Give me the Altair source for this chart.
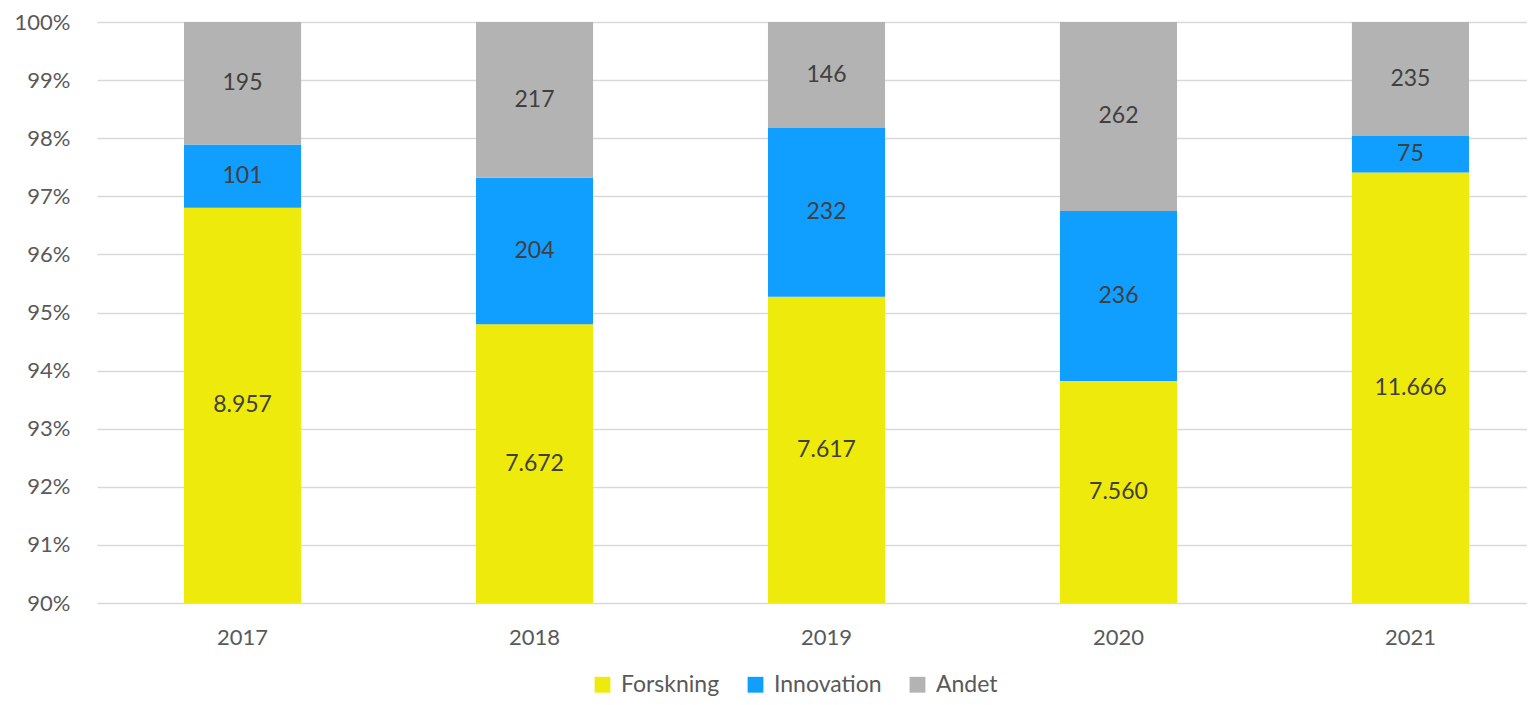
import altair as alt
import pandas as pd

years = ["2017", "2018", "2019", "2020", "2021"]
categories = ["Forskning", "Innovation", "Andet"]
forskning = [8957, 7672, 7617, 7560, 11666]
innovation = [101, 204, 232, 236, 75]
andet = [195, 217, 146, 262, 235]
colors = ["#EEEA0C", "#109EFF", "#B3B3B3"]

rows = []
for i, y in enumerate(years):
    for j, (c, vals) in enumerate(zip(categories, [forskning, innovation, andet])):
        rows.append({"year": y, "cat": c, "order": j, "value": vals[i]})
df = pd.DataFrame(rows)

FONT = "Lato"

base = alt.Chart(df).transform_stack(
    stack="value", groupby=["year"], as_=["y0", "y1"], offset="normalize",
    sort=[alt.SortField("order", order="ascending")]
).transform_calculate(
    mid="(max(datum.y0, 0.9) + datum.y1) / 2",
    label="replace(format(datum.value, ','), ',', '.')"
)

xscale = alt.Scale(paddingInner=0.599, paddingOuter=0.298, range=[0, 1459])
yscale = alt.Scale(domain=[0.9, 1.0], nice=False, zero=False)

bars = base.mark_bar(clip=True).encode(
    x=alt.X("year:N", title=None, sort=years, scale=xscale,
            axis=alt.Axis(labelAngle=0, labelFontSize=22, labelColor="#595959",
                          labelFont=FONT, labelPadding=24, domain=False, ticks=False,
                          grid=False)),
    y=alt.Y("y0:Q", title=None, scale=yscale,
            axis=alt.Axis(format=".0%", values=[0.9, 0.91, 0.92, 0.93, 0.94, 0.95, 0.96, 0.97, 0.98, 0.99, 1.0],
                          labelFontSize=22, labelColor="#595959", labelFont=FONT,
                          labelPadding=27, domain=False, ticks=False,
                          grid=True, gridColor="#D9D9D9", gridWidth=1.5)),
    y2="y1:Q",
    color=alt.Color("cat:N", sort=categories,
                    scale=alt.Scale(domain=categories, range=colors),
                    legend=alt.Legend(title=None, orient="none", direction="horizontal",
                                      legendX=494, legendY=651,
                                      symbolType="square", symbolSize=250,
                                      symbolStrokeWidth=0,
                                      labelFontSize=23, labelColor="#595959", labelFont=FONT,
                                      columnPadding=24, labelOffset=7)),
    order=alt.Order("order:Q"),
)

text = base.mark_text(fontSize=23, font=FONT, color="#404040").encode(
    x=alt.X("year:N", sort=years, title=None),
    y=alt.Y("mid:Q", title=None),
    text="label:N",
)

chart = (bars + text).properties(
    width=1430, height=581,
    background="white",
    autosize=alt.AutoSizeParams(type="none"),
    padding={"left": 89, "top": 14, "right": 0, "bottom": 94},
).configure_view(stroke=None)

chart.save("out.html", embed_options={"renderer": "svg", "actions": False})
